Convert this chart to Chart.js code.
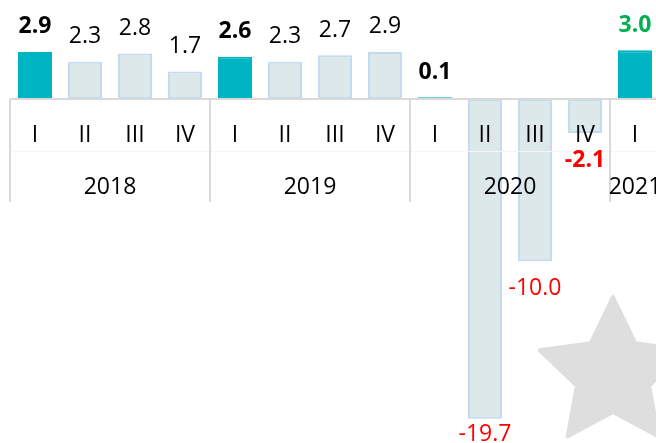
<!DOCTYPE html>
<html>
<head>
<meta charset="utf-8">
<script src="https://cdn.jsdelivr.net/npm/chart.js@4"></script>
<style>
    html, body { margin: 0; padding: 0; overflow: hidden; background: #fff; }
    canvas { display: block; }
</style>
</head>
<body>
<canvas id="myChart" width="660" height="443"></canvas>
<script>
// quarterly growth, %
let years = ['2018', '2019', '2020', '2021'];
let quarters = ['I', 'II', 'III', 'IV', 'I', 'II', 'III', 'IV', 'I', 'II', 'III', 'IV', 'I'];
let quarterYear = ['2018', '2018', '2018', '2018', '2019', '2019', '2019', '2019', '2020', '2020', '2020', '2020', '2021'];
let values = [2.9, 2.3, 2.8, 1.7, 2.6, 2.3, 2.7, 2.9, 0.1, -19.7, -10.0, -2.1, 3.0];

let teal = '#00b5c3';
let pale = '#dde8eb';
let paleBorder = '#c3daef';
let gridGrey = '#d9d9d9';
let fontFamily = '"Open Sans", "Noto Sans", sans-serif';

let fills = values.map((v, i) => quarters[i] === 'I' ? teal : pale);
let borders = values.map((v, i) => quarters[i] === 'I' ? teal : paleBorder);

function labelStyle(i) {
    let last = i === values.length - 1;
    let bold = quarters[i] === 'I' || i === values.length - 2;
    let color = values[i] < 0 ? '#ff0000' : '#000000';
    if (last) color = '#00b050';
    return { bold: bold, color: color };
}

// grey star in the lower right corner
let starPlugin = {
    id: 'star',
    beforeDraw(chart) {
        let ctx = chart.ctx;
        let cx = 613, cy = 374, R = 77, r = 38;
        ctx.save();
        ctx.beginPath();
        for (let k = 0; k < 10; k++) {
            let rad = k % 2 === 0 ? R : r;
            let a = -Math.PI / 2 + k * Math.PI / 5;
            let px = cx + rad * Math.cos(a);
            let py = cy + rad * Math.sin(a);
            if (k === 0) ctx.moveTo(px, py); else ctx.lineTo(px, py);
        }
        ctx.closePath();
        ctx.fillStyle = '#dedede';
        ctx.lineJoin = 'round';
        ctx.lineWidth = 4;
        ctx.strokeStyle = '#dedede';
        ctx.fill();
        ctx.stroke();
        ctx.restore();
    }
};

// zero line, quarter / year labels and value labels, drawn over the bars
let axisPlugin = {
    id: 'axisLabels',
    afterDatasetsDraw(chart) {
        let ctx = chart.ctx;
        let x = chart.scales.x;
        let y = chart.scales.y;
        let zero = y.getPixelForValue(0);
        let half = (x.getPixelForValue(1) - x.getPixelForValue(0)) / 2;
        ctx.save();

        // faint line between quarter row and year row
        ctx.strokeStyle = '#f5f5f5';
        ctx.lineWidth = 1;
        ctx.beginPath();
        ctx.moveTo(x.left, zero + 52.5);
        ctx.lineTo(x.right, zero + 52.5);
        ctx.stroke();

        // zero line
        ctx.strokeStyle = gridGrey;
        ctx.lineWidth = 2;
        ctx.beginPath();
        ctx.moveTo(x.left, zero);
        ctx.lineTo(x.right, zero);
        ctx.stroke();

        // year separators
        years.forEach(function (yr) {
            let first = quarterYear.indexOf(yr);
            let sx = Math.round(x.getPixelForValue(first) - half);
            ctx.beginPath();
            ctx.moveTo(sx, zero);
            ctx.lineTo(sx, zero + 103);
            ctx.stroke();
        });

        ctx.textAlign = 'center';
        ctx.textBaseline = 'middle';
        ctx.fillStyle = '#000';
        ctx.font = '23px ' + fontFamily;

        quarters.forEach(function (q, i) {
            ctx.fillText(q, x.getPixelForValue(i), zero + 36);
        });

        years.forEach(function (yr) {
            let idx = quarterYear.map((v, i) => v === yr ? i : -1).filter(i => i >= 0);
            let cx = (x.getPixelForValue(idx[0]) + x.getPixelForValue(idx[idx.length - 1])) / 2;
            ctx.fillText(yr, cx, zero + 88);
        });

        // value labels
        let meta = chart.getDatasetMeta(0);
        meta.data.forEach(function (bar, i) {
            let st = labelStyle(i);
            let v = values[i];
            let ly = v >= 0 ? bar.y - 25 : bar.y + 27;
            ly = Math.min(ly, chart.height - 9);
            ctx.font = (st.bold ? 'bold ' : '') + '23px ' + fontFamily;
            ctx.fillStyle = st.color;
            ctx.fillText(v.toFixed(1), bar.x, ly);
        });

        ctx.restore();
    }
};

let chart = new Chart(document.getElementById('myChart').getContext('2d'), {
    type: 'bar',
    data: {
        labels: quarters,
        datasets: [{
            data: values,
            backgroundColor: fills,
            borderColor: borders,
            borderWidth: 2,
            borderSkipped: false,
            categoryPercentage: 1,
            barPercentage: 0.68
        }]
    },
    options: {
        responsive: false,
        maintainAspectRatio: false,
        animation: false,
        devicePixelRatio: 1,
        layout: { padding: { left: 10, right: 0, top: 0, bottom: 0 } },
        plugins: {
            legend: { display: false },
            tooltip: { enabled: false }
        },
        scales: {
            x: { display: false },
            y: { display: false, min: -21.2, max: 6.1 }
        }
    },
    plugins: [starPlugin, axisPlugin]
});
</script>
</body>
</html>
